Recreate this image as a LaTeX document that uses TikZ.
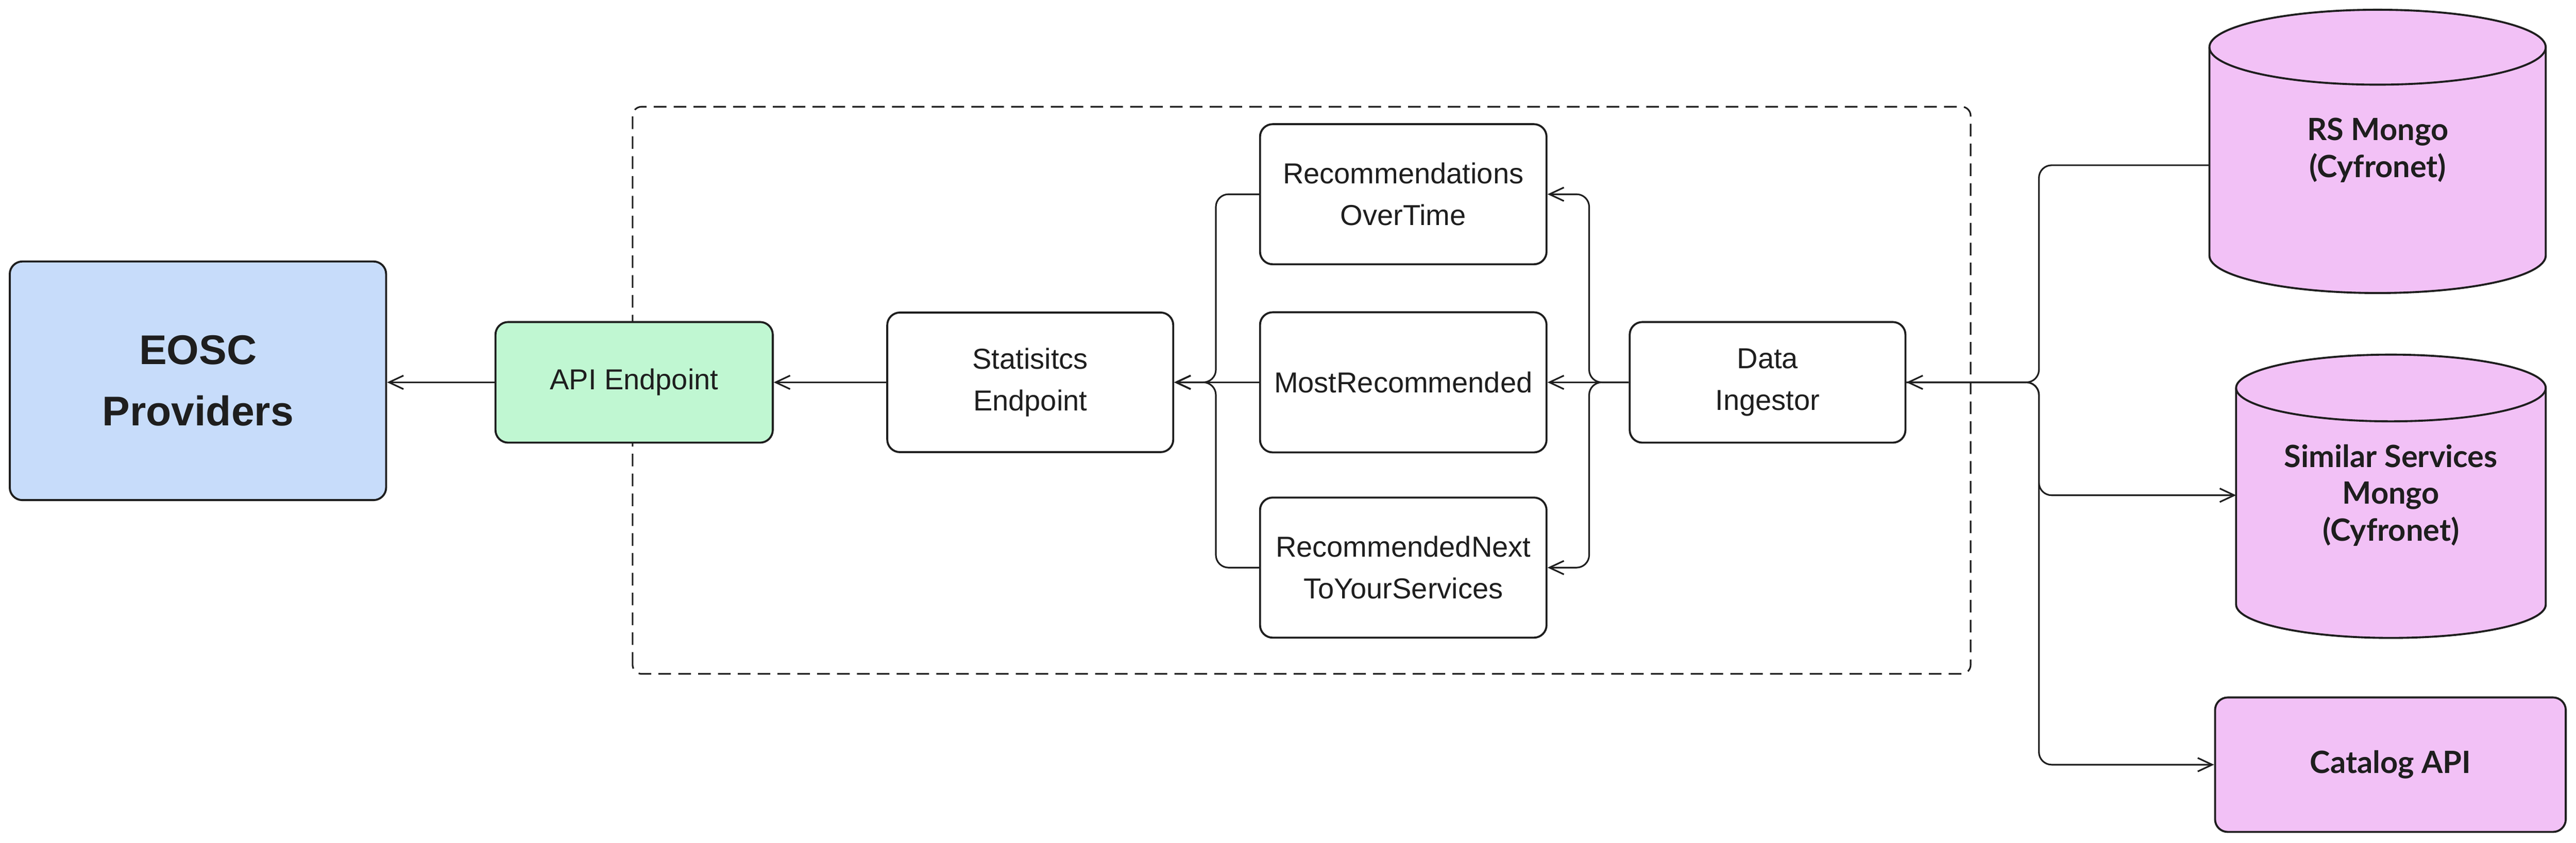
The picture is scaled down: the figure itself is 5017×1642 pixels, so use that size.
\documentclass[tikz,border=0pt]{standalone}
\usepackage{fontspec}
\setmainfont{Liberation Sans}
\newfontfamily\dbfont{Lato}
\usepackage{xcolor}
\usetikzlibrary{arrows.meta,positioning,calc}

\definecolor{ink}{HTML}{1E1E1E}
\definecolor{eoscblue}{HTML}{C7DCFA}
\definecolor{apigreen}{HTML}{C0F7D2}
\definecolor{dbpink}{HTML}{F2C1F6}

\begin{document}
\begin{tikzpicture}[x=0.1mm, y=0.1mm, >={Straight Barb[length=8pt,width=7.5pt]},
    box/.style={draw=ink, line width=1.1pt, rounded corners=7pt, align=center, text=ink,
        inner sep=0pt, font=\fontsize{16}{23}\selectfont},
    dblabel/.style={align=center, text=ink, font=\dbfont\bfseries\fontsize{17}{20.5}\selectfont},
    dbshape/.style={draw=ink, fill=dbpink, line width=1.1pt},
    conn/.style={draw=ink, line width=0.9pt, rounded corners=7pt, ->}]

    \useasboundingbox (0,0) rectangle (5017,1642);

    % Dashed group
    \draw[ink, line width=0.9pt, dash pattern=on 7pt off 4pt, rounded corners=5pt] (1232,329) rectangle (3838,1434);

    % EOSC Providers and API
    \node[box, fill=eoscblue, minimum width=73.3mm, minimum height=46.5mm,
        font=\bfseries\fontsize{23}{34}\selectfont] (eosc) at (385.5,900) {EOSC\\Providers};
    \node[box, fill=apigreen, minimum width=54mm, minimum height=23.5mm] (api) at (1235,897) {API Endpoint};
    \node[box, minimum width=55.7mm, minimum height=27.2mm] (stats) at (2006.5,897) {Statisitcs\\Endpoint};

    % Statistics
    \node[box, minimum width=55.8mm, minimum height=27.3mm] (rot) at (2733,1263.5) {Recommendations\\OverTime};
    \node[box, minimum width=55.8mm, minimum height=27.3mm] (most) at (2733,897) {MostRecommended};
    \node[box, minimum width=55.8mm, minimum height=27.3mm] (next) at (2733,536) {RecommendedNext\\ToYourServices};
    \node[box, minimum width=53.7mm, minimum height=23.5mm] (ingest) at (3442.5,897) {Data\\Ingestor};

    % RS Mongo
    \filldraw[dbshape] (4303,1550) -- (4303,1144) arc[start angle=180, end angle=360, x radius=327.5, y radius=73]
        -- (4958,1550) arc[start angle=0, end angle=180, x radius=327.5, y radius=73] -- cycle;
    \draw[dbshape, fill=none] (4303,1550) arc[start angle=180, end angle=360, x radius=327.5, y radius=73];
    \node[dblabel] (rs) at (4631,1349) {RS Mongo\\(Cyfronet)};

    % Similar Services Mongo
    \filldraw[dbshape] (4355,886) -- (4355,464) arc[start angle=180, end angle=360, x radius=301.5, y radius=65]
        -- (4958,886) arc[start angle=0, end angle=180, x radius=301.5, y radius=65] -- cycle;
    \draw[dbshape, fill=none] (4355,886) arc[start angle=180, end angle=360, x radius=301.5, y radius=65];
    \node[dblabel] (sim) at (4656.5,677) {Similar Services\\Mongo\\(Cyfronet)};

    % Catalog API
    \node[box, fill=dbpink, minimum width=68.3mm, minimum height=26.2mm,
        font=\dbfont\bfseries\fontsize{17}{20.5}\selectfont] (catalog) at (4655.5,152) {Catalog API};

    \coordinate (rsport) at (4303,1320);
    \coordinate (simport) at (4355,677);
    \coordinate (lbus) at (2368,897);
    \coordinate (rbus) at (3095,897);
    \coordinate (dbbus) at (3971,897);

    % Connectors
    \draw[conn] (api.west) -- (eosc.east |- api.west);
    \draw[conn] (stats.west) -- (api.east);
    \foreach \n in {rot,next} {
        \draw[conn] (\n.west) -| (lbus) -- (stats.east);
        \draw[conn] (ingest.west) -- (rbus) |- (\n.east);
    }
    \draw[conn] (most.west) -- (stats.east);
    \draw[conn] (ingest.west) -- (most.east);
    \draw[conn] (rsport) -| (dbbus) -- (ingest.east);
    \draw[conn] (ingest.east) -- (dbbus) |- (simport);
    \draw[conn] (ingest.east) -- (dbbus) |- (catalog.west);

\end{tikzpicture}
\end{document}
